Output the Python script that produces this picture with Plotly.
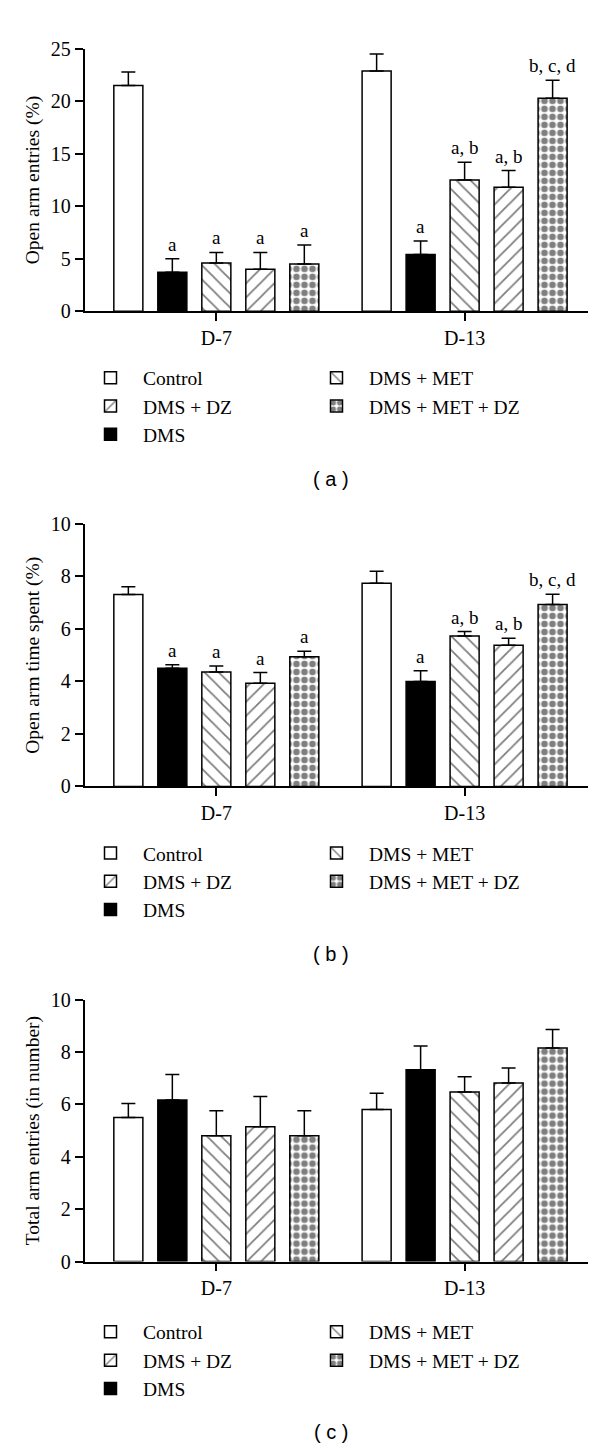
import plotly.graph_objects as go

# ---------------- data ----------------
groups = ["D-7", "D-13"]
treatments = ["Control", "DMS", "DMS + MET", "DMS + DZ", "DMS + MET + DZ"]

# (a) Open arm entries (%)  -- per treatment: [D-7, D-13]
entries_mean = [[21.5, 22.9], [3.7, 5.4], [4.6, 12.5], [4.0, 11.8], [4.5, 20.3]]
entries_sem = [[1.3, 1.6], [1.3, 1.3], [1.0, 1.7], [1.6, 1.6], [1.8, 1.7]]
entries_marks = [["", ""], ["a", "a"], ["a", "a, b"], ["a", "a, b"], ["a", "b, c, d"]]

# (b) Open arm time spent (%)
time_mean = [[7.31, 7.74], [4.50, 4.00], [4.36, 5.73], [3.93, 5.38], [4.94, 6.93]]
time_sem = [[0.30, 0.46], [0.14, 0.41], [0.23, 0.17], [0.41, 0.27], [0.21, 0.39]]
time_marks = [["", ""], ["a", "a"], ["a", "a, b"], ["a", "a, b"], ["a", "b, c, d"]]

# (c) Total arm entries (in number)
total_mean = [[5.50, 5.80], [6.17, 7.32], [4.80, 6.47], [5.15, 6.82], [4.80, 8.15]]
total_sem = [[0.53, 0.62], [0.97, 0.91], [0.96, 0.58], [1.15, 0.57], [0.96, 0.71]]
total_marks = [["", ""], ["", ""], ["", ""], ["", ""], ["", ""]]

y_titles = ["Open arm entries (%)", "Open arm time spent (%)", "Total arm entries (in number)"]
y_max = [25, 10, 10]
y_dtick = [5, 2, 2]
panel_labels = ["( a )", "( b )", "( c )"]

# ---------------- styles ----------------
W, H = 600, 1450
SERIF = "Liberation Serif, Times New Roman, serif"
SANS = "Liberation Sans, Arial, sans-serif"
fills = ["white", "black", "white", "white", "white"]
pattern_shapes = ["", "", "\\", "/", "."]
pattern_sizes = [10, 10, 10, 10, 8]
pattern_solid = [0.18, 0.18, 0.18, 0.18, 0.55]
legend_rank = [1, 5, 2, 3, 4]

BARGAP = 0.114
BARGROUPGAP = 0.34
slot = (1 - BARGAP) / len(treatments)

x_dom = [76.5 / W, 580 / W]
# pixel positions (top, bottom) of each y axis
y_px = [(30.3, 296.7), (512.7, 779.3), (995.7, 1261.7)]
legend_top_px = [344.7, 827.3, 1313.6]
label_px = [466.7, 949.3, 1435.0]

panels = [
    (entries_mean, entries_sem, entries_marks),
    (time_mean, time_sem, time_marks),
    (total_mean, total_sem, total_marks),
]

fig = go.Figure()
annotations = []
layout_axes = {}

for p, (means, sems, marks) in enumerate(panels):
    sfx = "" if p == 0 else str(p + 1)
    legend_name = "legend" + sfx
    for t, name in enumerate(treatments):
        fig.add_trace(go.Bar(
            x=[0, 1],
            y=means[t],
            name=name,
            xaxis="x" + sfx,
            yaxis="y" + sfx,
            legend=legend_name,
            legendrank=legend_rank[t],
            offsetgroup=str(t),
            marker=dict(
                color=fills[t],
                line=dict(color="black", width=1.5),
                pattern=dict(shape=pattern_shapes[t], fgcolor="black", bgcolor=fills[t],
                             size=pattern_sizes[t], solidity=pattern_solid[t]),
            ),
            error_y=dict(type="data", symmetric=False, array=sems[t], arrayminus=[0, 0],
                         color="black", thickness=1.5, width=7),
            hovertemplate=name + " %{y}<extra></extra>",
        ))
        for g in range(len(groups)):
            if marks[t][g]:
                annotations.append(dict(
                    x=g + (t - (len(treatments) - 1) / 2) * slot,
                    y=means[t][g] + sems[t][g],
                    xref="x" + sfx, yref="y" + sfx,
                    text=marks[t][g], showarrow=False,
                    yanchor="bottom", xanchor="center", yshift=2,
                    font=dict(family=SERIF, size=19, color="black"),
                ))
    top, bot = y_px[p]
    layout_axes["xaxis" + sfx] = dict(
        domain=x_dom, anchor="y" + sfx, range=[-0.531, 1.497],
        tickvals=[0, 1], ticktext=groups, ticks="outside", ticklen=8, tickwidth=1.5,
        tickcolor="black", showline=True, linecolor="black", linewidth=1.5,
        showgrid=False, zeroline=False, tickfont=dict(family=SERIF, size=20, color="black"),
        fixedrange=True,
    )
    layout_axes["yaxis" + sfx] = dict(
        domain=[1 - bot / H, 1 - top / H], anchor="x" + sfx, range=[0, y_max[p]],
        dtick=y_dtick[p], ticks="outside", ticklen=8, tickwidth=1.5, tickcolor="black",
        showline=True, linecolor="black", linewidth=1.5, showgrid=False, zeroline=False,
        tickfont=dict(family=SERIF, size=20, color="black"),
        title=dict(text=y_titles[p], font=dict(family=SERIF, size=19.5, color="black"), standoff=6),
        fixedrange=True,
    )
    layout_axes[legend_name] = dict(
        orientation="h", x=70 / W, xanchor="left", y=1 - legend_top_px[p] / H, yanchor="top",
        entrywidth=156, entrywidthmode="pixels", itemwidth=55, traceorder="normal",
        font=dict(family=SERIF, size=19.5, color="black"), bgcolor="rgba(0,0,0,0)",
    )
    annotations.append(dict(
        x=323 / W, y=1 - label_px[p] / H, xref="paper", yref="paper",
        text=panel_labels[p], showarrow=False, xanchor="center", yanchor="middle",
        font=dict(family=SANS, size=20, color="black"),
    ))

fig.update_layout(
    width=W, height=H,
    margin=dict(l=0, r=0, t=0, b=0),
    paper_bgcolor="white", plot_bgcolor="white",
    barmode="group", bargap=BARGAP, bargroupgap=BARGROUPGAP,
    showlegend=True,
    annotations=annotations,
    **layout_axes,
)

fig.write_html("out.html")
